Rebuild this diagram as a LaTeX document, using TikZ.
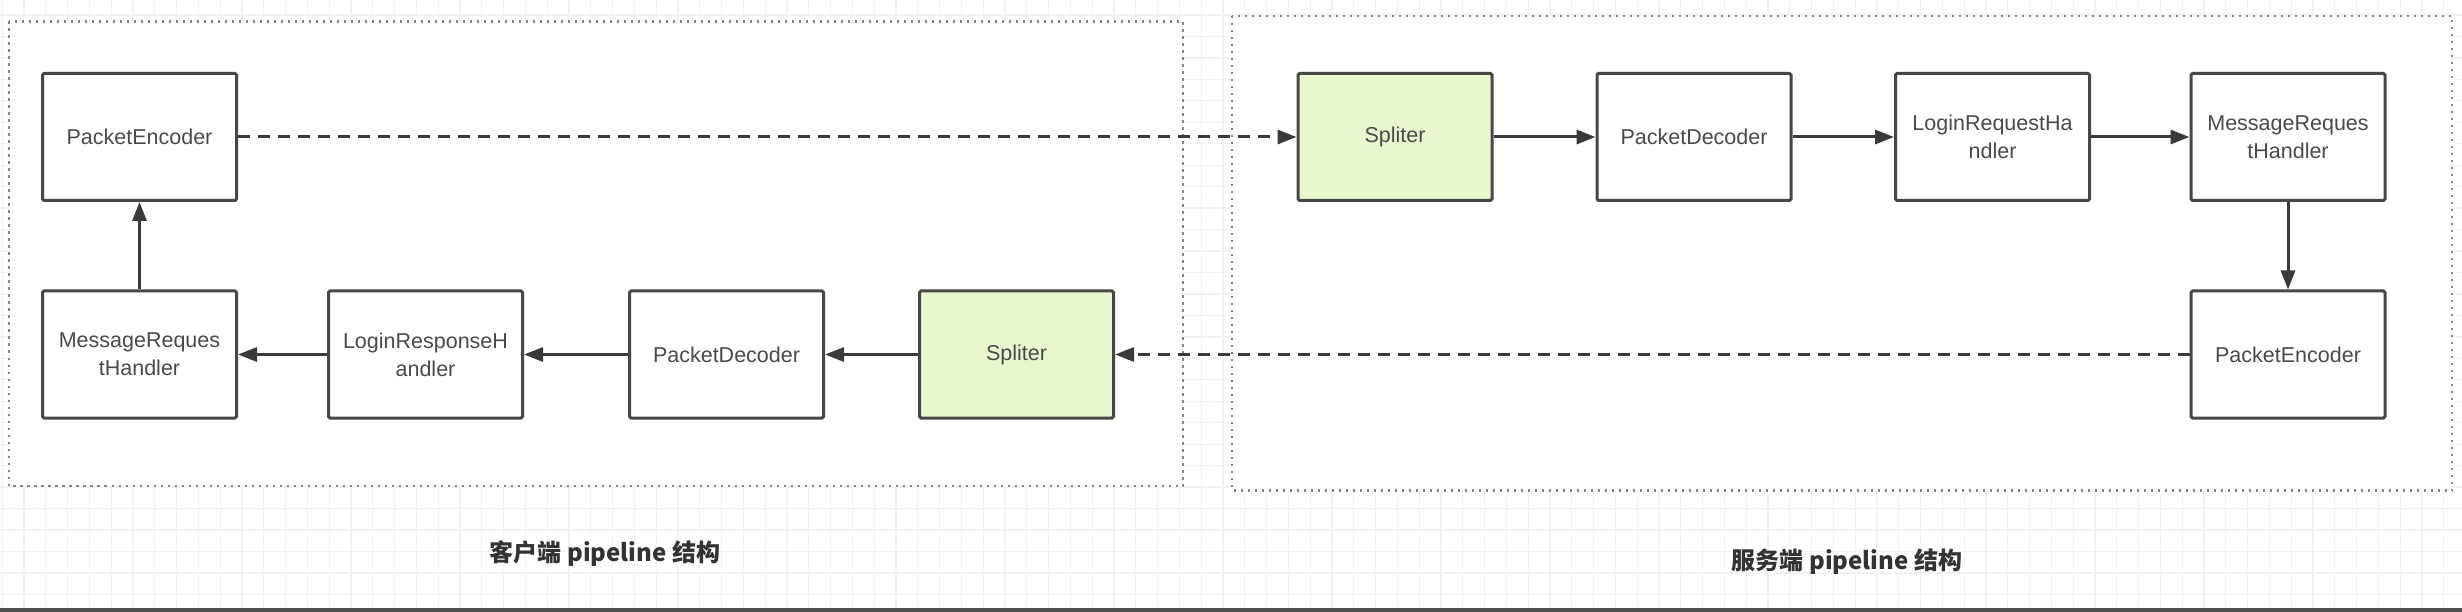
\documentclass[tikz,border=0pt]{standalone}
\usepackage{fontspec}
\setmainfont{Liberation Sans}
\newfontfamily\cjkfont{Noto Sans CJK SC}
\usetikzlibrary{arrows.meta}
\definecolor{boxline}{HTML}{474747}
\definecolor{arr}{HTML}{3A3A3A}
\definecolor{txt}{HTML}{4A4A4A}
\definecolor{greenfill}{HTML}{E7F8CF}
\definecolor{gridc}{HTML}{F2F2F2}
\definecolor{dotc}{HTML}{858585}
\definecolor{bar}{HTML}{4F4F4F}
\definecolor{lbl}{HTML}{333333}
\tikzset{
  blk/.style={draw=boxline, line width=3pt, fill=white, minimum width=194pt,
    minimum height=127pt, inner sep=0pt, align=center, text=txt,
    font=\fontsize{21.5pt}{28pt}\selectfont, rounded corners=1.5pt},
  greenblk/.style={blk, fill=greenfill},
  conn/.style={draw=arr, line width=3pt, -{Triangle[length=19pt,width=14pt]}},
  dconn/.style={conn, dash pattern=on 12pt off 8pt},
  groupbox/.style={draw=dotc, fill=white, line width=2.6pt, dash pattern=on 2.4pt off 4.6pt},
  caption/.style={text=lbl, font=\cjkfont\bfseries\fontsize{24pt}{28pt}\selectfont, inner sep=0pt},
  gridline/.style={draw=gridc, line width=1.3pt}
}
\begin{document}
\begin{tikzpicture}[x=1pt,y=-1pt]
\useasboundingbox (0,0) rectangle (2462,612);
\fill[white] (0,0) rectangle (2462,612);
% background grid
\foreach \k in {-1,...,111} {
  \draw[gridline] ({24+21.8*\k},0) -- ({24+21.8*\k},612);
}
\foreach \k in {0,...,27} {
  \draw[gridline] (0,{15+21.46*\k}) -- (2462,{15+21.46*\k});
}
% group boxes
\draw[groupbox] (9,21.5) rectangle (1183,486);
\draw[groupbox] (1232,16) rectangle (2452,490.5);
% client nodes
\node[blk] (cEnc) at (139.5,137) {PacketEncoder};
\node[blk] (cMsg) at (139.5,354.5) {MessageReques\\tHandler};
\node[blk] (cLogin) at (425.5,354.5) {LoginResponseH\\andler};
\node[blk] (cDec) at (726.5,354.5) {PacketDecoder};
\node[greenblk] (cSpl) at (1016.5,354.5) {Spliter};
% server nodes
\node[greenblk] (sSpl) at (1395,137) {Spliter};
\node[blk] (sDec) at (1694,137) {PacketDecoder};
\node[blk] (sLogin) at (1992.5,137) {LoginRequestHa\\ndler};
\node[blk] (sMsg) at (2288,137) {MessageReques\\tHandler};
\node[blk] (sEnc) at (2288,354.5) {PacketEncoder};
% connectors
\draw[conn] (cMsg.north) -- (cEnc.south);
\draw[dconn] (cEnc.east) -- (sSpl.west);
\draw[conn] (sSpl.east) -- (sDec.west);
\draw[conn] (sDec.east) -- (sLogin.west);
\draw[conn] (sLogin.east) -- (sMsg.west);
\draw[conn] (sMsg.south) -- (sEnc.north);
\draw[dconn] (sEnc.west) -- (cSpl.east);
\draw[conn] (cSpl.west) -- (cDec.east);
\draw[conn] (cDec.west) -- (cLogin.east);
\draw[conn] (cLogin.west) -- (cMsg.east);
% captions
\node[caption] (capC) at (605,554) {客户端 pipeline 结构};
\node[caption] (capS) at (1847,562) {服务端 pipeline 结构};
% bottom bar
\fill[bar] (0,607.5) rectangle (2462,612);
\end{tikzpicture}
\end{document}
